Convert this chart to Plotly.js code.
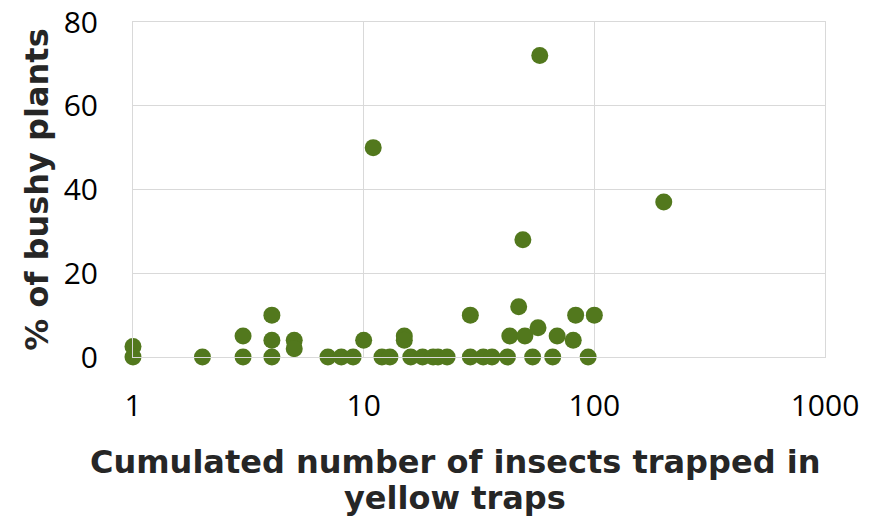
<!DOCTYPE html>
<html>
<head>
<meta charset="utf-8">
<script src="https://cdn.plot.ly/plotly-3.0.1.min.js"></script>
<style>html,body{margin:0;padding:0;background:#fff}#chart{width:881px;height:519px}</style>
</head>
<body>
<div id="chart"></div>
<script>
const insects = [1, 1, 2, 3, 3, 4, 4, 4, 5, 5, 7, 8, 9, 10, 11, 12, 13, 15, 15, 16, 18, 20, 21, 23, 29, 29, 33, 36, 42, 43, 47, 49, 50, 54, 57, 58, 66, 69, 81, 83, 94, 100, 200];
const bushy   = [2.5, 0, 0, 5, 0, 10, 4, 0, 4, 2, 0, 0, 0, 4, 50, 0, 0, 5, 4, 0, 0, 0, 0, 0, 10, 0, 0, 0, 0, 5, 12, 28, 5, 0, 7, 72, 0, 5, 4, 10, 0, 10, 37];
const xTicks = [1, 10, 100, 1000];
const xTickText = ['1', '10', '100', '1000'];
const yTicks = [0, 20, 40, 60, 80];
const xTitleLines = ['Cumulated number of insects trapped in', 'yellow traps'];
const yTitle = '% of bushy plants';

const trace = {
  x: insects, y: bushy, type: 'scatter', mode: 'markers',
  marker: {size: 17, color: '#52781d', line: {width: 0}},
  cliponaxis: false, hoverinfo: 'skip'
};
const grid = '#d9d9d9';
const tickFont = {family: '"Open Sans", sans-serif', size: 30, color: '#000'};
const titleFont = {family: '"DejaVu Sans", sans-serif', size: 32, color: '#262626', weight: 'bold'};
const lineY = [-0.313, -0.422];
const layout = {
  width: 881, height: 519,
  margin: {l: 133, r: 56, t: 22, b: 162},
  paper_bgcolor: '#fff', plot_bgcolor: '#fff',
  showlegend: false,
  font: {family: '"Open Sans", sans-serif', color: '#000'},
  xaxis: {
    type: 'log', range: [0, 3],
    tickvals: xTicks, ticktext: xTickText,
    showgrid: true, gridcolor: grid, gridwidth: 1,
    showline: true, linecolor: grid, mirror: true,
    ticks: 'outside', ticklen: 22, tickcolor: 'rgba(0,0,0,0)',
    tickfont: tickFont,
    zeroline: false
  },
  yaxis: {
    range: [0, 80], tickvals: yTicks,
    showgrid: true, gridcolor: grid, gridwidth: 1,
    showline: true, linecolor: grid, mirror: true,
    ticks: 'outside', ticklen: 28, tickcolor: 'rgba(0,0,0,0)',
    tickfont: tickFont,
    zeroline: false,
    title: {text: yTitle, font: titleFont, standoff: 5}
  },
  annotations: xTitleLines.map((t, i) => ({
    text: t, xref: 'paper', yref: 'paper', x: 0.465, y: lineY[i],
    xanchor: 'center', yanchor: 'middle', showarrow: false,
    font: titleFont, align: 'center', borderpad: 0
  }))
};
Plotly.newPlot('chart', [trace], layout, {displayModeBar: false, staticPlot: true});
</script>
</body>
</html>
